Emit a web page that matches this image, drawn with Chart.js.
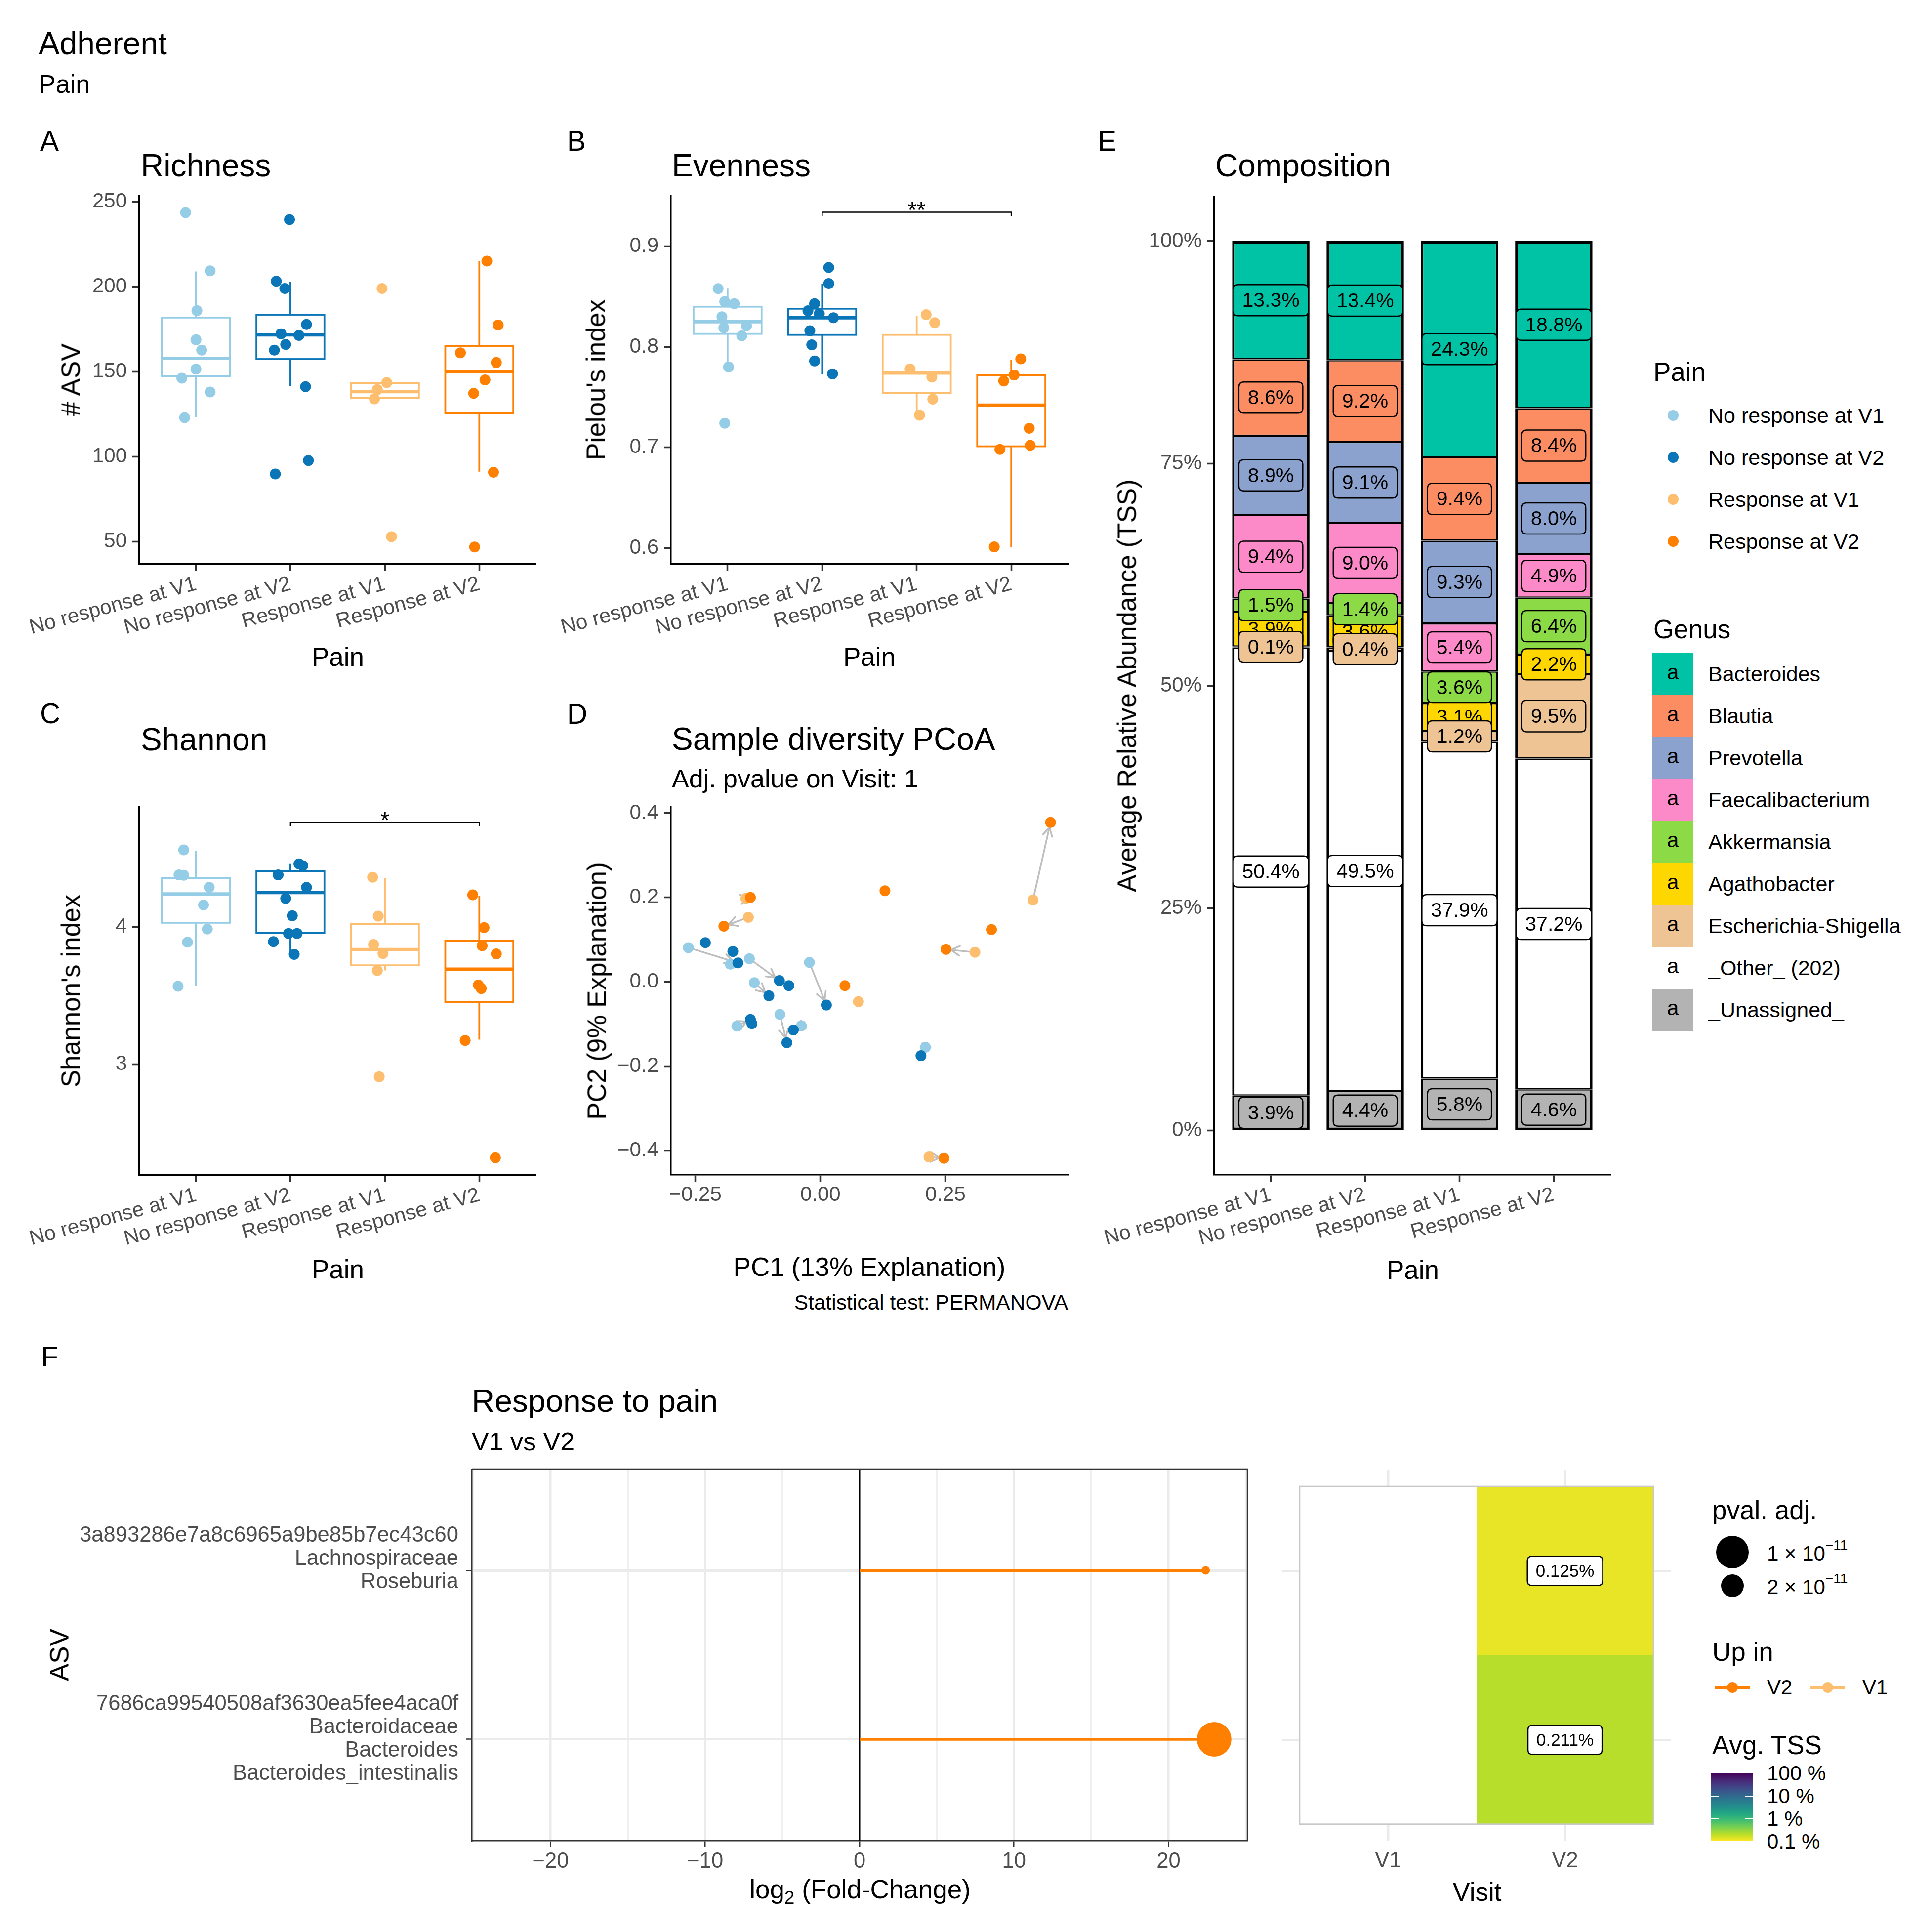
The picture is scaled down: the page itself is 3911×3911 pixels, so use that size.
<!DOCTYPE html>
<html>
<head>
<meta charset="utf-8">
<title>Adherent - Pain</title>
<script src="https://cdn.jsdelivr.net/npm/chart.js@4.4.1/dist/chart.umd.min.js"></script>
<style>
html,body{margin:0;padding:0;background:#fff;}
#root{position:relative;width:3911px;height:3911px;overflow:hidden;background:#fff;font-family:"Liberation Sans",Arial,Helvetica,sans-serif;color:#000;}
#root canvas{position:absolute;}
.t{position:absolute;white-space:nowrap;line-height:1;}
.sw{position:absolute;}
</style>
</head>
<body>
<div id="root"></div>
<script>
// ===================== DATA =====================
const painGroups = ["No response at V1", "No response at V2", "Response at V1", "Response at V2"];

// A - Richness (# ASV)
const richnessNRV1 = [243.5, 209.3, 185.9, 168.8, 162.7, 151.5, 146.2, 138.1, 123.0];
const richnessNRV2 = [239.4, 203.2, 198.9, 177.8, 172.3, 171.3, 166.0, 162.7, 141.2, 97.8, 89.9];
const richnessRV1  = [198.9, 143.6, 139.5, 134.0, 53.0];
const richnessRV2  = [215.0, 177.4, 161.1, 155.4, 145.2, 137.3, 90.9, 47.0];
const richnessJitter = [
  [-0.11, 0.15, 0.01, 0.00, 0.06, 0.00, -0.15, 0.15, -0.12],
  [-0.01, -0.15, -0.06, 0.17, -0.10, 0.09, -0.05, -0.17, 0.16, 0.19, -0.16],
  [-0.03, 0.02, -0.08, -0.11, 0.07],
  [0.08, 0.20, -0.20, 0.18, 0.06, -0.06, 0.15, -0.05]
];
// [lower whisker, Q1, median, Q3, upper whisker]
const richnessBox = [
  [123.2, 147.3, 157.8, 181.8, 208.9],
  [141.6, 157.4, 171.7, 183.5, 202.8],
  [134.0, 134.6, 138.3, 143.2, 143.6],
  [91.3, 125.7, 150.1, 165.2, 215.0]
];
const richnessRange = [36.9, 253.2];
const richnessTicks = [50, 100, 150, 200, 250];

// B - Evenness (Pielou's index)
const evennessNRV1 = [0.858, 0.845, 0.843, 0.830, 0.819, 0.821, 0.811, 0.780, 0.724];
const evennessNRV2 = [0.879, 0.863, 0.843, 0.836, 0.833, 0.829, 0.816, 0.802, 0.786, 0.773];
const evennessRV1  = [0.832, 0.824, 0.778, 0.770, 0.748, 0.732];
const evennessRV2  = [0.788, 0.772, 0.766, 0.719, 0.702, 0.698, 0.601];
const evennessJitter = [
  [-0.10, -0.03, 0.07, -0.06, -0.04, 0.20, 0.15, 0.01, -0.03],
  [0.07, 0.07, -0.08, -0.15, -0.03, 0.12, -0.13, -0.11, -0.08, 0.11],
  [0.10, 0.19, -0.07, 0.16, 0.17, 0.03],
  [0.10, 0.03, -0.08, 0.19, 0.20, -0.12, -0.18]
];
const evennessBox = [
  [0.780, 0.813, 0.825, 0.840, 0.858],
  [0.773, 0.812, 0.829, 0.838, 0.863],
  [0.732, 0.754, 0.774, 0.812, 0.831],
  [0.601, 0.701, 0.742, 0.772, 0.787]
];
const evennessRange = [0.5838, 0.950];
const evennessTicks = [0.6, 0.7, 0.8, 0.9];
const evennessBracket = [2, 4, 0.934, 0.930, 0.941];   // from, to, line, tip, label
const evennessSignif = "**";

// C - Shannon
const shannonNRV1 = [4.559, 4.378, 4.375, 4.287, 4.158, 3.983, 3.888, 3.567];
const shannonNRV2 = [4.458, 4.444, 4.378, 4.287, 4.206, 4.080, 3.951, 3.951, 3.891, 3.799];
const shannonRV1  = [4.361, 4.077, 3.871, 3.805, 3.682, 2.908];
const shannonRV2  = [4.232, 3.994, 3.862, 3.802, 3.576, 3.550, 3.172, 2.318];
const shannonJitter = [
  [-0.13, -0.18, -0.13, 0.14, 0.08, 0.12, -0.09, -0.19],
  [0.09, 0.13, -0.13, 0.17, -0.05, 0.02, -0.02, 0.07, -0.18, 0.04],
  [-0.13, -0.07, -0.12, -0.02, -0.08, -0.06],
  [-0.07, 0.05, 0.03, 0.18, -0.01, 0.02, -0.15, 0.17]
];
const shannonBox = [
  [3.570, 4.029, 4.238, 4.355, 4.553],
  [3.799, 3.954, 4.249, 4.404, 4.458],
  [3.682, 3.719, 3.834, 4.020, 4.355],
  [3.178, 3.453, 3.691, 3.897, 4.226]
];
const shannonRange = [2.191, 4.874];
const shannonTicks = [3, 4];
const shannonBracket = [2, 4, 4.756, 4.731, 4.813];
const shannonSignif = "*";

// D - PCoA
const pcoaNRV1X = [-0.264, -0.180, -0.142, -0.132, -0.022, -0.081, -0.167, -0.038, 0.210];
const pcoaNRV1Y = [0.081, 0.042, 0.055, -0.002, 0.046, -0.077, -0.105, -0.104, -0.155];
const pcoaNRV2X = [-0.230, -0.175, -0.165, -0.082, -0.063, -0.103, 0.012, -0.140, -0.137, -0.054, -0.067, 0.201];
const pcoaNRV2Y = [0.093, 0.072, 0.045, 0.003, -0.009, -0.033, -0.055, -0.089, -0.099, -0.114, -0.144, -0.175];
const pcoaRV1X  = [-0.144, -0.149, 0.425, 0.309, 0.076, 0.217];
const pcoaRV1Y  = [0.153, 0.198, 0.194, 0.070, -0.047, -0.415];
const pcoaRV2X  = [-0.140, -0.193, 0.129, 0.460, 0.342, 0.251, 0.049, 0.247];
const pcoaRV2Y  = [0.200, 0.132, 0.216, 0.378, 0.124, 0.077, -0.009, -0.418];
// [group from, index from, group to, index to]
const pcoaPairs = [
  [0,0,1,2],[0,2,1,3],[0,3,1,5],[0,4,1,6],[0,5,1,10],[0,6,1,7],[0,7,1,9],[0,8,1,11],
  [2,0,3,1],[2,1,3,0],[2,2,3,3],[2,3,3,5],[2,5,3,7]
];
const pcoaXRange = [-0.299, 0.495];
const pcoaYRange = [-0.457, 0.414];
const pcoaXTicks = [-0.25, 0, 0.25];
const pcoaYTicks = [-0.4, -0.2, 0, 0.2, 0.4];

// E - Composition (% average relative abundance, groups in painGroups order)
const genusNames = ["Bacteroides", "Blautia", "Prevotella", "Faecalibacterium", "Akkermansia",
                    "Agathobacter", "Escherichia-Shigella", "_Other_ (202)", "_Unassigned_"];
const compBacteroides  = [13.3, 13.4, 24.3, 18.8];
const compBlautia      = [8.6, 9.2, 9.4, 8.4];
const compPrevotella   = [8.9, 9.1, 9.3, 8.0];
const compFaecali      = [9.4, 9.0, 5.4, 4.9];
const compAkkermansia  = [1.5, 1.4, 3.6, 6.4];
const compAgathobacter = [3.9, 3.6, 3.1, 2.2];
const compEscherichia  = [0.1, 0.4, 1.2, 9.5];
const compOther        = [50.4, 49.5, 37.9, 37.2];
const compUnassigned   = [3.9, 4.4, 5.8, 4.6];
const compTicks = [0, 25, 50, 75, 100];
const compRange = [-5, 105];

// F - Differential abundance
const asvLabels = [
  ["3a893286e7a8c6965a9be85b7ec43c60", "Lachnospiraceae", "Roseburia", ""],
  ["7686ca99540508af3630ea5fee4aca0f", "Bacteroidaceae", "Bacteroides", "Bacteroides_intestinalis"]
];
const log2FC  = [22.4, 22.95];
const pvalAdj = [3.45e-11, 0.8e-11];
const upIn    = ["V2", "V2"];
const fcMajorTicks = [-20, -10, 0, 10, 20];
const fcMinorTicks = [-25, -15, -5, 5, 15, 25];
const fcRange = [-25.1, 25.1];
const heatVisits = ["V1", "V2"];
const heatTSS = [[0, 0.125], [0, 0.211]];   // rows = ASVs, cols = visits (%)
const pvalLegend = [1e-11, 2e-11];
const tssLegend = ["100 %", "10 %", "1 %", "0.1 %"];

// ===================== STYLE =====================
const painColors = ["#96CDE6", "#0A76B8", "#FDBF6F", "#FF7F00"];
const genusColors = ["#00C2A5", "#FC8D62", "#8AA2CD", "#FD8AC8", "#8CDA46", "#FFD700", "#EEC494", "#FFFFFF", "#B3B3B3"];
const upColors = {V2: "#FF7F00", V1: "#FDBF6F"};
const VIR = ["#440154","#482475","#414487","#355F8D","#2A788E","#21908C","#22A884","#42BE71","#7AD151","#BBDF27","#FDE725"];
const FONT = '"Liberation Sans", Arial, Helvetica, sans-serif';
const TICKC = "#4D4D4D";

Chart.defaults.font.family = FONT;
Chart.defaults.color = TICKC;
Chart.defaults.animation = false;
Chart.defaults.responsive = false;
Chart.defaults.events = [];
Chart.defaults.plugins.legend.display = false;
Chart.defaults.plugins.tooltip.enabled = false;

const root = document.getElementById('root');

function hex2rgb(h) { return [parseInt(h.slice(1,3),16), parseInt(h.slice(3,5),16), parseInt(h.slice(5,7),16)]; }
function viridis(t) {
  t = Math.max(0, Math.min(1, t));
  const p = t * 10, i = Math.min(9, Math.floor(p)), f = p - i;
  const a = hex2rgb(VIR[i]), b = hex2rgb(VIR[i+1]);
  return 'rgb(' + a.map((v, k) => Math.round(v + (b[k] - v) * f)).join(',') + ')';
}
function tssColor(v) {
  if (!v) return '#FFFFFF';
  const t = (Math.log10(v) - Math.log10(0.1)) / 3;
  return viridis(1 - t);
}
function pvalRadius(p) { return 33 - (p - 1e-11) / 1e-11 * 10; }

function roundRect(ctx, x, y, w, h, r) {
  ctx.beginPath();
  ctx.moveTo(x + r, y);
  ctx.lineTo(x + w - r, y); ctx.quadraticCurveTo(x + w, y, x + w, y + r);
  ctx.lineTo(x + w, y + h - r); ctx.quadraticCurveTo(x + w, y + h, x + w - r, y + h);
  ctx.lineTo(x + r, y + h); ctx.quadraticCurveTo(x, y + h, x, y + h - r);
  ctx.lineTo(x, y + r); ctx.quadraticCurveTo(x, y, x + r, y);
  ctx.closePath();
}

// ----- HTML text helpers -----
function txt(html, x, base, size, align, color) {
  const d = document.createElement('div');
  d.className = 't';
  d.innerHTML = html;
  d.style.fontSize = size + 'px';
  d.style.top = (base - 0.847 * size) + 'px';
  if (align === 'center') { d.style.left = x + 'px'; d.style.transform = 'translateX(-50%)'; }
  else if (align === 'right') { d.style.right = (3911 - x) + 'px'; }
  else d.style.left = x + 'px';
  if (color) d.style.color = color;
  root.appendChild(d);
  return d;
}
function vtxt(html, cx, cy, size) {
  const d = document.createElement('div');
  d.className = 't';
  d.innerHTML = html;
  d.style.fontSize = size + 'px';
  d.style.left = cx + 'px'; d.style.top = cy + 'px';
  d.style.transform = 'translate(-50%,-50%) rotate(-90deg)';
  root.appendChild(d);
}
function rect(x, y, w, h, css) {
  const d = document.createElement('div');
  d.className = 'sw';
  Object.assign(d.style, {left: x + 'px', top: y + 'px', width: w + 'px', height: h + 'px'}, css || {});
  root.appendChild(d);
  return d;
}
function dot(cx, cy, r, color) { rect(cx - r, cy - r, 2 * r, 2 * r, {borderRadius: '50%', background: color}); }

// ----- Chart helpers -----
function makeChart(cv, pl, cfg) {
  const c = document.createElement('canvas');
  const w = cv[2] - cv[0], h = cv[3] - cv[1];
  c.width = w; c.height = h;
  Object.assign(c.style, {left: cv[0] + 'px', top: cv[1] + 'px', width: w + 'px', height: h + 'px'});
  root.appendChild(c);
  const yW = pl[0] - cv[0], xH = cv[3] - pl[3];
  cfg.options.devicePixelRatio = 1;
  cfg.options.maintainAspectRatio = false;
  cfg.options.layout = {autoPadding: false, padding: {top: pl[1] - cv[1], right: cv[2] - pl[2], left: 0, bottom: 0}};
  cfg.options.scales.x.afterFit = s => { s.height = xH; s.paddingLeft = 0; s.paddingRight = 0; };
  cfg.options.scales.y.afterFit = s => { s.width = yW; s.paddingTop = 0; s.paddingBottom = 0; };
  return new Chart(c, cfg);
}
function classicAxis() {
  return {
    offset: false,
    border: {display: true, color: '#000', width: 3.5},
    grid: {display: true, drawOnChartArea: false, drawTicks: true, tickLength: 14, tickColor: '#333', tickWidth: 3.5, offset: false}
  };
}
function xCatScale() {
  return Object.assign(classicAxis(), {
    type: 'linear', min: 0.4, max: 4.6,
    afterBuildTicks: s => { s.ticks = painGroups.map((_, i) => ({value: i + 1})); },
    ticks: {autoSkip: false, minRotation: 15, maxRotation: 15, padding: 2, color: TICKC, font: {size: 42},
            callback: v => painGroups[Math.round(v) - 1]}
  });
}
function yLinScale(range, ticks, fmt) {
  return Object.assign(classicAxis(), {
    type: 'linear', min: range[0], max: range[1],
    afterBuildTicks: s => { s.ticks = ticks.map(v => ({value: v})); },
    ticks: {autoSkip: false, padding: 11, color: TICKC, font: {size: 42}, callback: fmt}
  });
}
function boxPlugin(stats) {
  return {
    id: 'boxes',
    beforeDatasetsDraw(chart) {
      const {ctx, scales: {x, y}} = chart;
      ctx.save();
      stats.forEach((s, i) => {
        const cx = x.getPixelForValue(i + 1);
        const hw = x.getPixelForValue(i + 1.36) - cx;
        const [lo, q1, md, q3, hi] = s.map(v => y.getPixelForValue(v));
        ctx.strokeStyle = painColors[i];
        ctx.lineWidth = 3.7;
        ctx.beginPath(); ctx.moveTo(cx, q3); ctx.lineTo(cx, hi); ctx.moveTo(cx, q1); ctx.lineTo(cx, lo); ctx.stroke();
        ctx.fillStyle = '#fff';
        ctx.fillRect(cx - hw, q3, 2 * hw, q1 - q3);
        ctx.strokeRect(cx - hw, q3, 2 * hw, q1 - q3);
        ctx.lineWidth = 7;
        ctx.beginPath(); ctx.moveTo(cx - hw, md); ctx.lineTo(cx + hw, md); ctx.stroke();
      });
      ctx.restore();
    }
  };
}
function bracketPlugin(br, label) {
  return {
    id: 'bracket',
    afterDatasetsDraw(chart) {
      if (!br) return;
      const {ctx, scales: {x, y}} = chart;
      const x1 = x.getPixelForValue(br[0]), x2 = x.getPixelForValue(br[1]);
      const yl = y.getPixelForValue(br[2]), yt = y.getPixelForValue(br[3]);
      ctx.save();
      ctx.strokeStyle = '#000'; ctx.lineWidth = 2.5;
      ctx.beginPath(); ctx.moveTo(x1, yt); ctx.lineTo(x1, yl); ctx.lineTo(x2, yl); ctx.lineTo(x2, yt); ctx.stroke();
      ctx.fillStyle = '#000';
      ctx.font = '46px ' + FONT;
      ctx.textAlign = 'center'; ctx.textBaseline = 'alphabetic';
      ctx.fillText(label, (x1 + x2) / 2, y.getPixelForValue(br[4]) + 26);
      ctx.restore();
    }
  };
}
function boxPanel(cv, pl, groups, jitter, stats, range, ticks, fmt, br, label) {
  const datasets = groups.map((vals, g) => ({
    data: vals.map((v, k) => ({x: g + 1 + jitter[g][k], y: v})),
    pointRadius: 11, pointBackgroundColor: painColors[g], pointBorderWidth: 0, clip: false, order: 4 - g
  }));
  return makeChart(cv, pl, {
    type: 'scatter',
    data: {datasets},
    options: {scales: {x: xCatScale(), y: yLinScale(range, ticks, fmt)}},
    plugins: [boxPlugin(stats), bracketPlugin(br, label)]
  });
}

// ===================== PANEL A / B / C =====================
boxPanel([0, 360, 1110, 1400], [282, 397, 1085, 1142],
  [richnessNRV1, richnessNRV2, richnessRV1, richnessRV2], richnessJitter, richnessBox,
  richnessRange, richnessTicks, v => String(v), null, null);

boxPanel([1100, 360, 2190, 1400], [1358, 397, 2162, 1142],
  [evennessNRV1, evennessNRV2, evennessRV1, evennessRV2], evennessJitter, evennessBox,
  evennessRange, evennessTicks, v => v.toFixed(1), evennessBracket, evennessSignif);

boxPanel([0, 1600, 1110, 2640], [282, 1633, 1085, 2379],
  [shannonNRV1, shannonNRV2, shannonRV1, shannonRV2], shannonJitter, shannonBox,
  shannonRange, shannonTicks, v => String(v), shannonBracket, shannonSignif);

// ===================== PANEL D =====================
const pcoaX = [pcoaNRV1X, pcoaNRV2X, pcoaRV1X, pcoaRV2X];
const pcoaY = [pcoaNRV1Y, pcoaNRV2Y, pcoaRV1Y, pcoaRV2Y];
const minus = v => (v < -1e-9 ? '\u2212' : '');
const arrowPlugin = {
  id: 'arrows',
  beforeDatasetsDraw(chart) {
    const {ctx, scales: {x, y}} = chart;
    ctx.save();
    ctx.strokeStyle = '#BEBEBE'; ctx.lineWidth = 3.5; ctx.lineCap = 'round'; ctx.lineJoin = 'round';
    pcoaPairs.forEach(([g1, i1, g2, i2]) => {
      const x1 = x.getPixelForValue(pcoaX[g1][i1]), y1 = y.getPixelForValue(pcoaY[g1][i1]);
      const x2 = x.getPixelForValue(pcoaX[g2][i2]), y2 = y.getPixelForValue(pcoaY[g2][i2]);
      const dx = x2 - x1, dy = y2 - y1, L = Math.hypot(dx, dy);
      if (L < 2) return;
      const ux = dx / L, uy = dy / L, sh = Math.min(10, L * 0.3);
      const ex = x2 - ux * sh, ey = y2 - uy * sh;
      ctx.beginPath(); ctx.moveTo(x1, y1); ctx.lineTo(ex, ey); ctx.stroke();
      const a = Math.atan2(uy, ux), hl = 20;
      ctx.beginPath();
      ctx.moveTo(ex - hl * Math.cos(a - 0.5), ey - hl * Math.sin(a - 0.5));
      ctx.lineTo(ex, ey);
      ctx.lineTo(ex - hl * Math.cos(a + 0.5), ey - hl * Math.sin(a + 0.5));
      ctx.stroke();
    });
    ctx.restore();
  }
};
(function () {
  const datasets = pcoaX.map((xs, g) => ({
    data: xs.map((v, k) => ({x: v, y: pcoaY[g][k]})),
    pointRadius: 11, pointBackgroundColor: painColors[g], pointBorderWidth: 0, clip: false, order: 4 - g
  }));
  const xs = Object.assign(classicAxis(), {
    type: 'linear', min: pcoaXRange[0], max: pcoaXRange[1],
    afterBuildTicks: s => { s.ticks = pcoaXTicks.map(v => ({value: v})); },
    ticks: {autoSkip: false, maxRotation: 0, minRotation: 0, padding: 2, color: TICKC, font: {size: 42},
            callback: v => minus(v) + Math.abs(v).toFixed(2)}
  });
  const ys = yLinScale(pcoaYRange, pcoaYTicks, v => minus(v) + Math.abs(v).toFixed(1));
  makeChart([1100, 1600, 2190, 2500], [1358, 1634, 2162, 2378], {
    type: 'scatter', data: {datasets}, options: {scales: {x: xs, y: ys}}, plugins: [arrowPlugin]
  });
})();

// ===================== PANEL E =====================
const compValues = [compBacteroides, compBlautia, compPrevotella, compFaecali, compAkkermansia,
                    compAgathobacter, compEscherichia, compOther, compUnassigned];
const labelOrder = [5, 0, 1, 2, 3, 4, 6, 7, 8];
const compLabelPlugin = {
  id: 'compLabels',
  afterDatasetsDraw(chart) {
    const ctx = chart.ctx;
    ctx.save();
    ctx.font = '41px ' + FONT;
    ctx.textAlign = 'center'; ctx.textBaseline = 'middle';
    labelOrder.forEach(gi => {
      const di = genusNames.length - 1 - gi;
      const meta = chart.getDatasetMeta(di);
      meta.data.forEach((el, j) => {
        const v = compValues[gi][j];
        const cx = el.x, cy = (el.y + el.base) / 2;
        const s = v.toFixed(1) + '%';
        const w = ctx.measureText(s).width + 36, h = 63;
        roundRect(ctx, cx - w / 2, cy - h / 2, w, h, 10);
        ctx.fillStyle = genusColors[gi]; ctx.fill();
        ctx.lineWidth = 2.5; ctx.strokeStyle = '#000'; ctx.stroke();
        ctx.fillStyle = '#000';
        ctx.fillText(s, cx, cy + 2);
      });
    });
    ctx.restore();
  }
};
(function () {
  const datasets = [];
  const nG = genusNames.length;
  for (let gi = nG - 1; gi >= 0; gi--) {
    datasets.push({
      label: genusNames[gi],
      data: compValues[gi].map((v, j) => ({x: j + 1, y: v})),
      backgroundColor: genusColors[gi], borderColor: '#000',
      borderWidth: {top: gi === 0 ? 5 : 2.5, bottom: gi === nG - 1 ? 5 : 2.5, left: 5, right: 5},
      borderSkipped: false,
      barPercentage: 0.82, categoryPercentage: 1
    });
  }
  const xs = xCatScale(); xs.stacked = true;
  const ys = yLinScale(compRange, compTicks, v => v + '%'); ys.stacked = true;
  makeChart([2200, 360, 3290, 2640], [2458, 398, 3260, 2378], {
    type: 'bar', data: {datasets}, options: {scales: {x: xs, y: ys}}, plugins: [compLabelPlugin]
  });
})();

// ===================== PANEL F : lollipop =====================
const fcAllTicks = fcMajorTicks.concat(fcMinorTicks).sort((a, b) => a - b);
const isMajor = v => fcMajorTicks.indexOf(v) >= 0;
const lolliPlugin = {
  id: 'lolli',
  beforeDatasetsDraw(chart) {
    const {ctx, chartArea: ca, scales: {x}} = chart;
    const x0 = x.getPixelForValue(0);
    ctx.save();
    ctx.strokeStyle = '#000'; ctx.lineWidth = 3;
    ctx.beginPath(); ctx.moveTo(x0, ca.top); ctx.lineTo(x0, ca.bottom); ctx.stroke();
    ctx.restore();
  },
  afterDraw(chart) {
    const {ctx, chartArea: ca} = chart;
    ctx.save();
    ctx.strokeStyle = '#333'; ctx.lineWidth = 2.5;
    ctx.beginPath(); ctx.moveTo(ca.left, ca.top); ctx.lineTo(ca.right, ca.top); ctx.lineTo(ca.right, ca.bottom); ctx.stroke();
    ctx.restore();
  }
};
(function () {
  const datasets = log2FC.map((v, i) => ({
    data: [{x: 0, y: i + 1}, {x: v, y: i + 1}],
    showLine: true, borderColor: upColors[upIn[i]], borderWidth: 5.7,
    pointRadius: [0, pvalRadius(pvalAdj[i])], pointBackgroundColor: upColors[upIn[i]], pointBorderWidth: 0, clip: false
  }));
  const xs = {
    type: 'linear', min: fcRange[0], max: fcRange[1], offset: false,
    border: {display: true, color: '#333', width: 2.5},
    grid: {display: true, drawOnChartArea: true, drawTicks: true, tickLength: 12, offset: false,
           color: c => isMajor(c.tick.value) ? '#EBEBEB' : '#F0F0F0',
           lineWidth: c => isMajor(c.tick.value) ? 4.5 : 4,
           tickColor: c => isMajor(c.tick.value) ? '#333' : 'rgba(0,0,0,0)', tickWidth: 2.5},
    afterBuildTicks: s => { s.ticks = fcAllTicks.map(v => ({value: v})); },
    ticks: {autoSkip: false, maxRotation: 0, minRotation: 0, padding: 5, color: TICKC, font: {size: 43.5},
            callback: v => isMajor(v) ? minus(v) + Math.abs(v) : ''}
  };
  const ys = {
    type: 'linear', min: 0.4, max: 2.6, reverse: true, offset: false,
    border: {display: true, color: '#333', width: 2.5},
    grid: {display: true, drawOnChartArea: true, drawTicks: true, tickLength: 12, color: '#EBEBEB', lineWidth: 5,
           tickColor: '#333', tickWidth: 2.5, offset: false},
    afterBuildTicks: s => { s.ticks = asvLabels.map((_, i) => ({value: i + 1})); },
    ticks: {autoSkip: false, padding: 15, color: TICKC, font: {size: 43.5, lineHeight: 1.08},
            callback: v => asvLabels[Math.round(v) - 1]}
  };
  makeChart([100, 2950, 2560, 3800], [955, 2974, 2525, 3726], {
    type: 'scatter', data: {datasets}, options: {scales: {x: xs, y: ys}}, plugins: [lolliPlugin]
  });
})();

// ===================== PANEL F : heatmap =====================
const heatPlugin = {
  id: 'heat',
  afterDatasetsDraw(chart) {
    const {ctx, scales: {x, y}} = chart;
    ctx.save();
    const l = x.getPixelForValue(0.5), r = x.getPixelForValue(heatVisits.length + 0.5);
    const t = y.getPixelForValue(0.5), b = y.getPixelForValue(asvLabels.length + 0.5);
    ctx.strokeStyle = '#C8C8C8'; ctx.lineWidth = 3;
    ctx.strokeRect(l, t, r - l, b - t);
    ctx.font = '35px ' + FONT;
    ctx.textAlign = 'center'; ctx.textBaseline = 'middle';
    heatTSS.forEach((row, ri) => row.forEach((v, ci) => {
      if (!v) return;
      const cx = x.getPixelForValue(ci + 1), cy = y.getPixelForValue(ri + 1);
      const s = v.toFixed(3) + '%';
      const w = ctx.measureText(s).width + 34, h = 59;
      roundRect(ctx, cx - w / 2, cy - h / 2, w, h, 9);
      ctx.fillStyle = '#fff'; ctx.fill();
      ctx.lineWidth = 2.5; ctx.strokeStyle = '#000'; ctx.stroke();
      ctx.fillStyle = '#000';
      ctx.fillText(s, cx, cy + 2);
    }));
    ctx.restore();
  }
};
(function () {
  const datasets = heatVisits.map((vis, ci) => ({
    label: vis, grouped: false,
    data: asvLabels.map((_, ri) => ({x: ci + 1, y: [ri + 0.5, ri + 1.5]})),
    backgroundColor: heatTSS.map(row => tssColor(row[ci])),
    borderWidth: 0, barPercentage: 1, categoryPercentage: 1
  }));
  const xs = {
    type: 'linear', min: 0.4, max: 2.6, offset: false,
    border: {display: false},
    grid: {display: true, drawOnChartArea: true, drawTicks: false, color: '#EBEBEB', lineWidth: 4.5, offset: false},
    afterBuildTicks: s => { s.ticks = heatVisits.map((_, i) => ({value: i + 1})); },
    ticks: {autoSkip: false, maxRotation: 0, minRotation: 0, padding: 15, color: TICKC, font: {size: 43.5},
            callback: v => heatVisits[Math.round(v) - 1]}
  };
  const ys = {
    type: 'linear', min: 0.4, max: 2.6, reverse: true, offset: false,
    border: {display: false},
    grid: {display: true, drawOnChartArea: true, drawTicks: false, color: '#EBEBEB', lineWidth: 4.5, offset: false},
    afterBuildTicks: s => { s.ticks = asvLabels.map((_, i) => ({value: i + 1})); },
    ticks: {display: false}
  };
  makeChart([2590, 2960, 3400, 3800], [2595, 2975, 3383, 3727], {
    type: 'bar', data: {datasets}, options: {scales: {x: xs, y: ys}}, plugins: [heatPlugin]
  });
})();

// ===================== TEXT =====================
txt('Adherent', 78, 110, 64);
txt('Pain', 78, 188, 52);

txt('A', 81, 305, 57); txt('B', 1148, 305, 57); txt('E', 2222, 305, 57);
txt('C', 81, 1464, 57); txt('D', 1148, 1465, 57); txt('F', 83, 2766, 57);

txt('Richness', 285, 357, 64);
txt('Evenness', 1360, 357, 64);
txt('Composition', 2460, 357, 64);
txt('Shannon', 285, 1519, 64);
txt('Sample diversity PCoA', 1360, 1518, 64);
txt('Adj. pvalue on Visit: 1', 1360, 1594, 52);
txt('Response to pain', 955, 2858, 64);
txt('V1 vs V2', 955, 2936, 52);

txt('Pain', 684, 1348, 53, 'center');
txt('Pain', 1760, 1348, 53, 'center');
txt('Pain', 684, 2588, 53, 'center');
txt('PC1 (13% Explanation)', 1760, 2583, 53, 'center');
txt('Statistical test: PERMANOVA', 2162, 2652, 42.5, 'right');
txt('Pain', 2860, 2589, 53, 'center');
txt('log<span style="font-size:37px;position:relative;top:11px">2</span> (Fold-Change)', 1741, 3843, 53, 'center');
txt('Visit', 2990, 3848, 53, 'center');

vtxt('# ASV', 143, 769, 53);
vtxt("Pielou's index", 1206, 769, 53);
vtxt("Shannon's index", 143, 2006, 53);
vtxt('PC2 (9% Explanation)', 1208, 2006, 53);
vtxt('Average Relative Abundance (TSS)', 2281, 1388, 53);
vtxt('ASV', 120, 3350, 53);

// ----- Legends E -----
txt('Pain', 3347, 771, 53);
painGroups.forEach((g, i) => {
  const cy = 841 + 85 * i;
  dot(3387, cy, 11, painColors[i]);
  txt(g, 3458, cy + 15, 43);
});
txt('Genus', 3347, 1292, 53);
genusNames.forEach((g, i) => {
  const cy = 1364 + 85.1 * i;
  rect(3345, cy - 42.5, 83, 85.5, {background: genusColors[i]});
  txt('a', 3386.5, cy + 11, 43, 'center');
  txt(g, 3458, cy + 15, 43);
});

// ----- Legends F -----
txt('pval. adj.', 3466, 3075, 53);
pvalLegend.forEach((p, i) => {
  const cy = [3142, 3210][i];
  dot(3507, cy, pvalRadius(p), '#000');
  const m = Math.round(p / 1e-11);
  txt(m + ' \u00D7 10<span style="font-size:28px;position:relative;top:-22px">\u221211</span>', 3577, cy + 18, 42);
});
txt('Up in', 3466, 3362, 53);
[['V2', 3472, 3577], ['V1', 3665, 3770]].forEach(([k, lx, tx]) => {
  rect(lx, 3416 - 2.5, 70, 5, {background: upColors[k]});
  dot(lx + 35, 3416, 11, upColors[k]);
  txt(k, tx, 3431, 42);
});
txt('Avg. TSS', 3466, 3551, 53);
rect(3464, 3589, 84, 138, {background: 'linear-gradient(to bottom,' + VIR.join(',') + ')'});
[3636, 3682].forEach(yy => {
  rect(3464, yy - 1, 16, 2, {background: '#fff'});
  rect(3532, yy - 1, 16, 2, {background: '#fff'});
});
tssLegend.forEach((s, i) => txt(s, 3577, 3590 + 46 * i + 15, 42));
</script>
</body>
</html>
